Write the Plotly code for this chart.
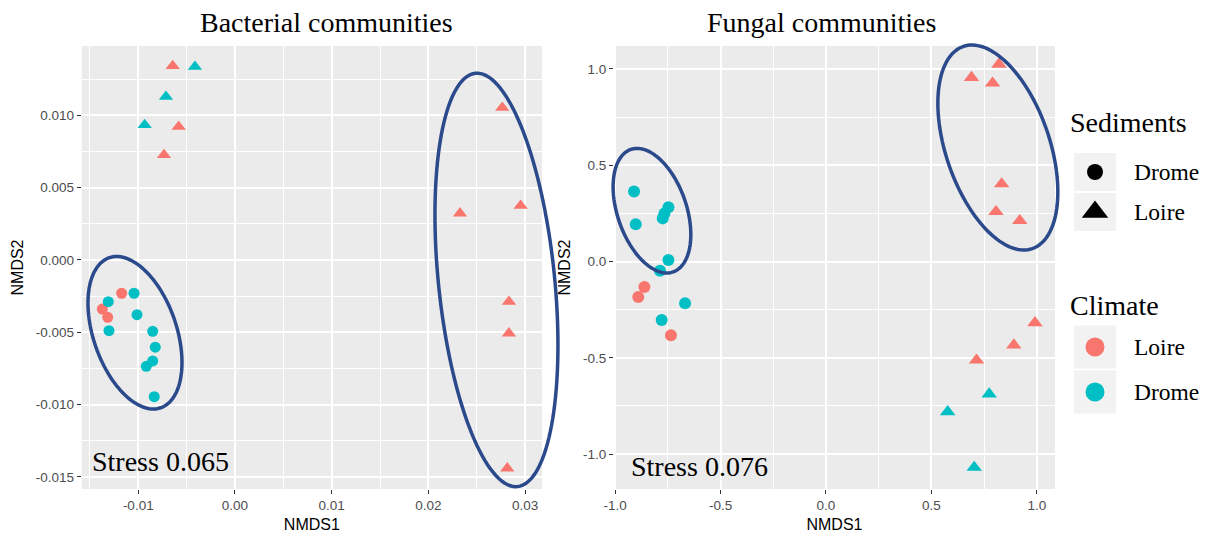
import math
import plotly.graph_objects as go

# ---------------- data ----------------
# Bacterial communities (left panel)
bac_nmds1 = [-0.00644, -0.00414, -0.00714, -0.00934, -0.00582, -0.00734,
             0.02764, 0.02327, 0.02954, 0.02833, 0.02833, 0.02816,
             -0.01172, -0.01044, -0.01310, -0.01372, -0.01316, -0.01013,
             -0.01303, -0.00851, -0.00824, -0.00851, -0.00917, -0.00835]
bac_nmds2 = [0.01341, 0.01336, 0.01129, 0.00933, 0.00921, 0.00726,
             0.01053, 0.00323, 0.00375, -0.00288, -0.00507, -0.01440,
             -0.00230, -0.00230, -0.00288, -0.00339, -0.00396, -0.00378,
             -0.00489, -0.00493, -0.00603, -0.00698, -0.00735, -0.00945]
bac_sediment = ["Loire"] * 12 + ["Drome"] * 12
bac_climate = ["Loire", "Drome", "Drome", "Drome", "Loire", "Loire",
               "Loire", "Loire", "Loire", "Loire", "Loire", "Loire",
               "Loire", "Drome", "Drome", "Loire", "Loire", "Drome",
               "Drome", "Drome", "Drome", "Drome", "Drome", "Drome"]

# Fungal communities (right panel)
fun_nmds1 = [0.820, 0.690, 0.790, 0.833, 0.806, 0.919, 0.991, 0.891, 0.714,
             0.774, 0.577, 0.703,
             -0.910, -0.747, -0.766, -0.774, -0.902, -0.747, -0.787,
             -0.861, -0.890, -0.668, -0.779, -0.735]
fun_nmds2 = [1.024, 0.955, 0.926, 0.403, 0.259, 0.212, -0.318, -0.434, -0.512,
             -0.688, -0.780, -1.069,
             0.363, 0.282, 0.250, 0.224, 0.193, 0.008, -0.048,
             -0.132, -0.184, -0.217, -0.304, -0.383]
fun_sediment = ["Loire"] * 12 + ["Drome"] * 12
fun_climate = ["Loire"] * 9 + ["Drome"] * 3 + \
              ["Drome", "Drome", "Drome", "Drome", "Drome", "Drome", "Drome",
               "Loire", "Loire", "Drome", "Drome", "Loire"]

panel_titles = ["Bacterial communities", "Fungal communities"]
stress_labels = ["Stress 0.065", "Stress 0.076"]

bac_xticks = [-0.01, 0.0, 0.01, 0.02, 0.03]
bac_xticklabels = ["-0.01", "0.00", "0.01", "0.02", "0.03"]
bac_yticks = [-0.015, -0.010, -0.005, 0.0, 0.005, 0.010]
bac_yticklabels = ["-0.015", "-0.010", "-0.005", "0.000", "0.005", "0.010"]
fun_ticks = [-1.0, -0.5, 0.0, 0.5, 1.0]
fun_ticklabels = ["-1.0", "-0.5", "0.0", "0.5", "1.0"]

sediment_names = ["Drome", "Loire"]
climate_names = ["Loire", "Drome"]

# ---------------- styling / layout ----------------
W, H = 1209, 535
symbol_map = {"Drome": "circle", "Loire": "triangle-up"}
color_map = {"Loire": "#F8766D", "Drome": "#00BFC4"}
ELLIPSE_COLOR = "#2B4A8B"
SERIF = "Liberation Serif, Times New Roman, serif"
SANS = "Liberation Sans, Arial, sans-serif"

PLOT_TOP, PLOT_BOTTOM = 46, 489
panels = [
    dict(px0=81.7, px1=542.0, xr=(-0.01585, 0.03175), yr=(-0.01583, 0.01479),
         xa="x", ya="y", size_c=11, size_t=12.5, title_x=326.3,
         stress_px=(90, 461)),
    dict(px0=614.0, px1=1055.0, xr=(-1.005, 1.086), yr=(-1.181, 1.119),
         xa="x2", ya="y2", size_c=12, size_t=13.5, title_x=821.5,
         stress_px=(629, 466)),
]

# ellipses: centre in data units, semi-axes in px, tilt (deg, top leaning left)
ellipses = [
    [dict(cx=-0.01034, cy=-0.00503, a=79.3, b=41.6, tilt=18.9),
     dict(cx=0.02704, cy=-0.00138, a=207.7, b=58.1, tilt=5.8)],
    [dict(cx=-0.825, cy=0.264, a=64.8, b=34.5, tilt=19.0),
     dict(cx=0.815, cy=0.592, a=106.8, b=51.9, tilt=18.8)],
]

fig = go.Figure()
shapes = []
annotations = []


def ellipse_path(e, p, n=140):
    """Ellipse outline (overlay drawing, not clipped) expressed in paper coordinates."""
    kx = (p["px1"] - p["px0"]) / (p["xr"][1] - p["xr"][0])
    ky = (PLOT_BOTTOM - PLOT_TOP) / (p["yr"][1] - p["yr"][0])
    cxp = p["px0"] + (e["cx"] - p["xr"][0]) * kx
    cyp = PLOT_BOTTOM - (e["cy"] - p["yr"][0]) * ky
    phi = math.radians(e["tilt"])
    ux, uy = -math.sin(phi), -math.cos(phi)   # screen coords, y down
    vx, vy = math.cos(phi), -math.sin(phi)
    pts = []
    for i in range(n):
        t = 2 * math.pi * i / n
        sx = cxp + e["a"] * math.cos(t) * ux + e["b"] * math.sin(t) * vx
        sy = cyp + e["a"] * math.cos(t) * uy + e["b"] * math.sin(t) * vy
        pts.append((sx / W, 1 - sy / H))
    return "M " + " L ".join(f"{x:.6f},{y:.6f}" for x, y in pts) + " Z"


datasets = [
    (bac_nmds1, bac_nmds2, bac_sediment, bac_climate),
    (fun_nmds1, fun_nmds2, fun_sediment, fun_climate),
]

for p, (xs, ys, seds, clims), ells, title, stress in zip(
        panels, datasets, ellipses, panel_titles, stress_labels):
    for sed in sediment_names:
        for clim in climate_names:
            idx = [i for i in range(len(xs)) if seds[i] == sed and clims[i] == clim]
            if not idx:
                continue
            fig.add_trace(go.Scatter(
                x=[xs[i] for i in idx], y=[ys[i] for i in idx], mode="markers",
                marker=dict(symbol=symbol_map[sed], color=color_map[clim],
                            size=p["size_t"] if sed == "Loire" else p["size_c"],
                            line=dict(width=0)),
                xaxis=p["xa"], yaxis=p["ya"], showlegend=False,
                name=f"Sediments {sed} / Climate {clim}",
                hoverinfo="x+y+name"))
    # panel background
    shapes.append(dict(type="rect", xref=f"{p['xa']} domain", yref=f"{p['ya']} domain",
                       x0=0, x1=1, y0=0, y1=1, fillcolor="#EBEBEB",
                       line=dict(width=0), layer="below"))
    for e in ells:
        shapes.append(dict(type="path", xref="paper", yref="paper",
                           path=ellipse_path(e, p),
                           line=dict(color=ELLIPSE_COLOR, width=3.5),
                           fillcolor="rgba(0,0,0,0)", layer="above"))
    annotations.append(dict(text=title, xref="paper", yref="paper",
                            x=p["title_x"] / W, y=1 - 22 / H,
                            xanchor="center", yanchor="middle", showarrow=False,
                            font=dict(family=SERIF, size=28, color="black")))
    annotations.append(dict(text=stress, xref="paper", yref="paper",
                            x=p["stress_px"][0] / W, y=1 - p["stress_px"][1] / H,
                            xanchor="left", yanchor="middle", showarrow=False,
                            font=dict(family=SERIF, size=28, color="black")))

# ---------------- legend (drawn manually in a hidden pixel-scaled axis) ----------------
LEG_X0 = 1060
legend_groups = [
    dict(title="Sediments", labels=sediment_names, title_y=122, row0=172, step=40,
         kind="shape"),
    dict(title="Climate", labels=climate_names, title_y=305, row0=347, step=45,
         kind="colour"),
]
KEY_X, KEY_HALF_W, TITLE_X, LABEL_X = 1095, 21, 1068, 1132

for g in legend_groups:
    annotations.append(dict(text=g["title"], xref="x3", yref="y3", x=TITLE_X, y=g["title_y"],
                            xanchor="left", yanchor="middle", showarrow=False,
                            font=dict(family=SERIF, size=28, color="black")))
    for i, lab in enumerate(g["labels"]):
        yy = g["row0"] + i * g["step"]
        shapes.append(dict(type="rect", xref="x3", yref="y3",
                           x0=KEY_X - KEY_HALF_W, x1=KEY_X + KEY_HALF_W,
                           y0=yy - g["step"] / 2 + 1, y1=yy + g["step"] / 2 - 1,
                           fillcolor="#F2F2F2", line=dict(width=0), layer="below"))
        if g["kind"] == "shape":
            sym = symbol_map[lab]
            col = "black"
            size = 16 if sym == "circle" else 23
        else:
            sym = "circle"
            col = color_map[lab]
            size = 19
        fig.add_trace(go.Scatter(x=[KEY_X], y=[yy], mode="markers",
                                 marker=dict(symbol=sym, color=col, size=size, line=dict(width=0)),
                                 xaxis="x3", yaxis="y3", showlegend=False, hoverinfo="skip"))
        annotations.append(dict(text=lab, xref="x3", yref="y3", x=LABEL_X, y=yy,
                                xanchor="left", yanchor="middle", showarrow=False,
                                font=dict(family=SERIF, size=23.5, color="black")))

# ---------------- axes ----------------
common = dict(showline=False, zeroline=False, ticks="outside", ticklen=4, tickwidth=1.1,
              tickcolor="#333333", showgrid=True, gridcolor="white", gridwidth=1.6,
              automargin=False,
              tickfont=dict(family=SANS, size=13.5, color="#4D4D4D"), fixedrange=True)
ydom = [1 - PLOT_BOTTOM / H, 1 - PLOT_TOP / H]


def title_font():
    return dict(family=SANS, size=16, color="black")


fig.update_layout(
    width=W, height=H, autosize=False,
    margin=dict(l=0, r=0, t=0, b=0),
    paper_bgcolor="white", plot_bgcolor="rgba(0,0,0,0)",
    showlegend=False,
    shapes=shapes, annotations=annotations,
    xaxis=dict(domain=[panels[0]["px0"] / W, panels[0]["px1"] / W], range=list(panels[0]["xr"]),
               anchor="y", tickmode="array", tickvals=bac_xticks, ticktext=bac_xticklabels,
               minor=dict(tickmode="array", tickvals=[-0.015, -0.005, 0.005, 0.015, 0.025],
                          showgrid=True, gridcolor="white", gridwidth=0.8),
               title=dict(text="NMDS1", font=title_font(), standoff=6), **common),
    yaxis=dict(domain=ydom, range=list(panels[0]["yr"]), anchor="x",
               tickmode="array", tickvals=bac_yticks, ticktext=bac_yticklabels,
               minor=dict(tickmode="array",
                          tickvals=[-0.0125, -0.0075, -0.0025, 0.0025, 0.0075, 0.0125],
                          showgrid=True, gridcolor="white", gridwidth=0.8),
               title=dict(text="NMDS2", font=title_font(), standoff=8), **common),
    xaxis2=dict(domain=[panels[1]["px0"] / W, panels[1]["px1"] / W], range=list(panels[1]["xr"]),
                anchor="y2", tickmode="array", tickvals=fun_ticks, ticktext=fun_ticklabels,
                minor=dict(tickmode="array", tickvals=[-0.75, -0.25, 0.25, 0.75],
                           showgrid=True, gridcolor="white", gridwidth=0.8),
                title=dict(text="NMDS1", font=title_font(), standoff=6), **common),
    yaxis2=dict(domain=ydom, range=list(panels[1]["yr"]), anchor="x2",
                tickmode="array", tickvals=fun_ticks, ticktext=fun_ticklabels,
                minor=dict(tickmode="array", tickvals=[-0.75, -0.25, 0.25, 0.75],
                           showgrid=True, gridcolor="white", gridwidth=0.8),
                title=dict(text="NMDS2", font=title_font(), standoff=8), **common),
    xaxis3=dict(domain=[LEG_X0 / W, 1], range=[LEG_X0, W], visible=False, fixedrange=True,
                anchor="y3", automargin=False),
    yaxis3=dict(domain=[0, 1], range=[H, 0], visible=False, fixedrange=True, anchor="x3",
                automargin=False),
)

fig.write_html("out.html", include_plotlyjs=True, config={"displayModeBar": False})
